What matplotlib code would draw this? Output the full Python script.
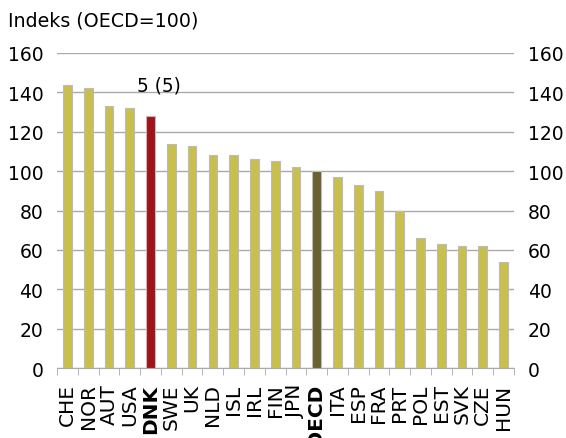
import numpy as np
import matplotlib.pyplot as plt

countries = ['CHE', 'NOR', 'AUT', 'USA', 'DNK', 'SWE', 'UK', 'NLD', 'ISL', 'IRL', 'FIN',
             'JPN', 'OECD', 'ITA', 'ESP', 'FRA', 'PRT', 'POL', 'EST', 'SVK', 'CZE', 'HUN']
values = [144, 142, 133, 132, 128, 114, 113, 108, 108, 106, 105,
          102, 100, 97, 93, 90, 80, 66, 63, 62, 62, 54]
highlight = {'DNK': '#A01318', 'OECD': '#69612F'}
rank_label = '5 (5)'

fig = plt.figure(figsize=(5.66, 4.39), dpi=100)
ax = fig.add_axes([0.101, 0.159, 0.807, 0.718])

x = np.arange(len(countries))
colors = [highlight.get(c, '#C8BF4F') for c in countries]
ax.bar(x, values, width=0.42, color=colors, edgecolor='#BBBBBB', linewidth=0.8, zorder=3)

ax.set_ylim(0, 160)
ax.set_xlim(-0.5, len(countries) - 0.5)
ax.set_yticks(np.arange(0, 161, 20))
ax.yaxis.grid(True, color='#AAAAAA', linewidth=1.0, zorder=0)
ax.tick_params(axis='y', length=0, labelsize=13.5, labelright=True, pad=10)

# country labels, DNK and OECD in bold
ax.set_xticks(x)
ax.set_xticklabels(countries, rotation=90, fontsize=14.5)
for lbl in ax.get_xticklabels():
    if lbl.get_text() in highlight:
        lbl.set_fontweight('bold')
ax.set_xticks(np.arange(-0.5, len(countries), 1), minor=True)
ax.tick_params(axis='x', which='major', length=0, pad=11)
ax.tick_params(axis='x', which='minor', length=5, color='#AAAAAA')

for s in ['top', 'left', 'right']:
    ax.spines[s].set_visible(False)
ax.spines['bottom'].set_color('#AAAAAA')

ax.text(countries.index('DNK') + 0.4, 143.8, rank_label, ha='center', va='center', fontsize=13.4)
fig.text(0.014, 0.953, 'Indeks (OECD=100)', ha='left', va='center', fontsize=13.7)

fig.savefig('out.png', dpi=100)
